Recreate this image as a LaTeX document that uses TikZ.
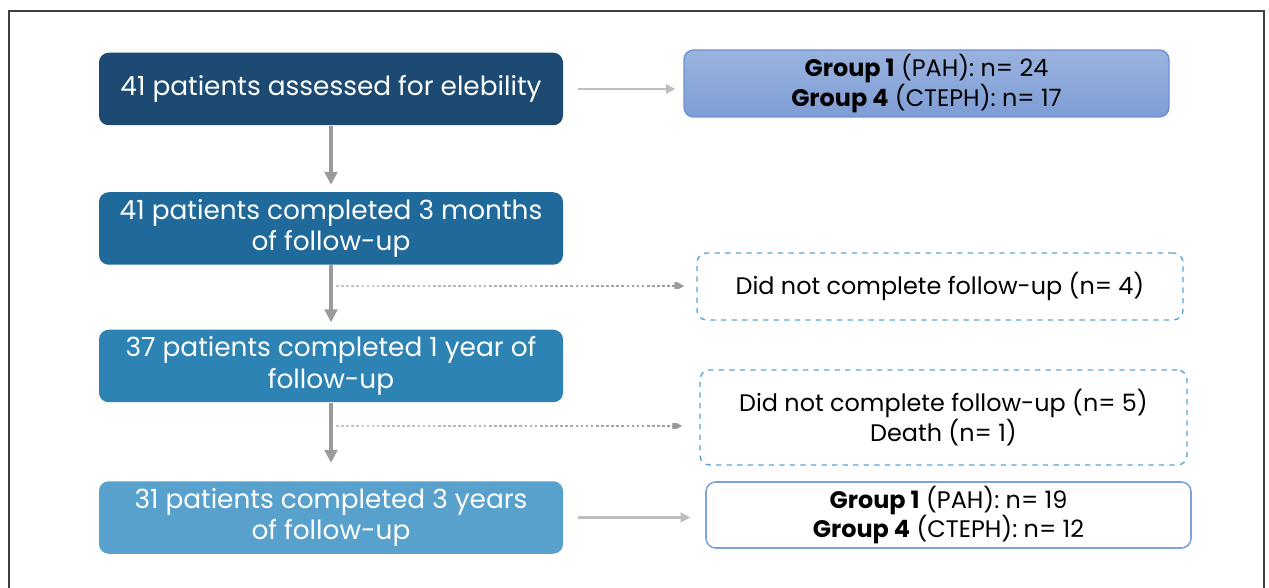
\documentclass[tikz,border=0pt]{standalone}
\usepackage{fontspec}
\setmainfont{Poppins}
\usetikzlibrary{arrows.meta,calc,fadings}

\definecolor{stageA}{HTML}{1C4A72}
\definecolor{stageB}{HTML}{1F6A9B}
\definecolor{stageC}{HTML}{2E83B5}
\definecolor{stageD}{HTML}{57A1CC}
\definecolor{groupTop}{HTML}{9AB3DF}
\definecolor{groupBot}{HTML}{7E9DD5}
\definecolor{groupLine}{HTML}{6E90CF}
\definecolor{lossLine}{HTML}{5AA5D3}
\definecolor{endLine}{HTML}{7EA1DD}
\definecolor{arrowGray}{HTML}{9B9B9B}
\definecolor{sideGray}{HTML}{BDBDBD}

\tikzfading[name=fade lost, left color=transparent!45, right color=transparent!0]

\begin{document}
\begin{tikzpicture}[>=Latex,
	stage/.style={rounded corners=5.5pt, minimum width=9.28cm, minimum height=1.45cm,
		align=center, text=white, inner sep=0pt, font=\fontsize{15}{18}\selectfont},
	side/.style={rounded corners=5.5pt, minimum width=9.7cm, minimum height=1.34cm,
		align=center, text=black, inner sep=0pt, font=\fontsize{13.6}{17}\selectfont},
	down/.style={arrowGray, line width=1.9pt, -{Triangle[length=2.6mm,width=2.5mm]}},
	across/.style={sideGray, line width=1.3pt, -{Triangle[length=1.9mm,width=1.9mm]}},
	lost/.style={gray!80, line width=1.7pt, dash pattern=on 1.5pt off 1.4pt,
		path fading=fade lost, -{Triangle[length=2mm,width=2mm]}}]
	
	\useasboundingbox (0,0) rectangle (25.38,-11.76);
	
	% outer frame (open at the bottom)
	\draw[black!75, line width=0.6pt] (0.18,-11.76) |- (25.28,-0.22) -- (25.28,-11.76);
	
	% ======================================================
	% Left column: patients at each stage
	% ======================================================
	\node[stage, fill=stageA] (assessed) at (6.62,-1.78) {41 patients assessed for elebility};
	\node[stage, fill=stageB] (month3) at (6.62,-4.57)
	{41 patients completed 3 months\\of follow-up};
	\node[stage, fill=stageC] (year1) at (6.62,-7.32)
	{37 patients completed 1 year of\\follow-up};
	\node[stage, fill=stageD] (year3) at (6.62,-10.35)
	{31 patients completed 3 years\\of follow-up};
	
	% ======================================================
	% Right column: groups and losses
	% ======================================================
	\node[side, draw=groupLine, line width=0.8pt, top color=groupTop, bottom color=groupBot]
	(groupsIn) at (18.53,-1.67)
	{\textbf{Group 1} (PAH): n= 24\\\textbf{Group 4} (CTEPH): n= 17};
	\node[side, draw=lossLine, dashed, line width=0.8pt, minimum width=9.72cm]
	(lossA) at (18.8,-5.73) {Did not complete follow-up (n= 4)};
	\node[side, draw=lossLine, dashed, line width=0.8pt, minimum width=9.74cm, minimum height=1.9cm]
	(lossB) at (18.87,-8.35) {Did not complete follow-up (n= 5)\\Death (n= 1)};
	\node[side, draw=endLine, line width=0.9pt, minimum height=1.32cm]
	(groupsOut) at (18.97,-10.3)
	{\textbf{Group 1} (PAH): n= 19\\\textbf{Group 4} (CTEPH): n= 12};
	
	% Vertical flow
	\draw[down, shorten >=0.14cm] (assessed) -- (month3);
	\draw[down, shorten >=0.14cm] (month3) -- (year1);
	\draw[down, shorten >=0.36cm] (year1) -- (year3);
	
	% Side arrows
	\draw[across, shorten <=0.3cm, shorten >=0.16cm] (assessed.east) -- (assessed.east -| groupsIn.west);
	\draw[across, shorten <=0.3cm, shorten >=0.3cm] (year3.east) -- (year3.east -| groupsOut.west);
	
	% Dotted losses
	\coordinate (offA) at (6.72,-5.72);
	\coordinate (offB) at (6.72,-8.52);
	\draw[lost, shorten >=0.24cm] (offA) -- (offA -| lossA.west);
	\draw[lost, shorten >=0.34cm] (offB) -- (offB -| lossB.west);
	
\end{tikzpicture}
\end{document}
